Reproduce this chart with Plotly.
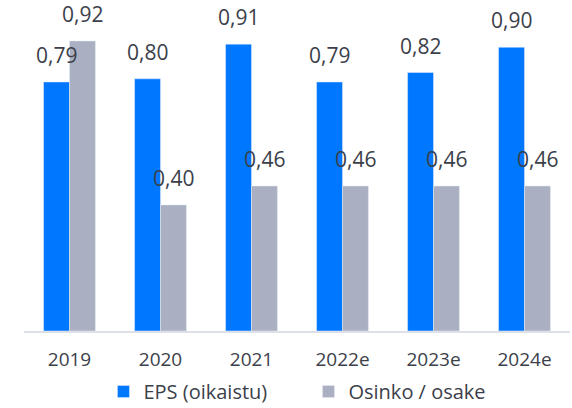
import plotly.graph_objects as go

years = ["2019", "2020", "2021", "2022e", "2023e", "2024e"]
eps = [0.79, 0.80, 0.91, 0.79, 0.82, 0.90]
dividend = [0.92, 0.40, 0.46, 0.46, 0.46, 0.46]

BLUE = "#0077ff"
GREY = "#aab0c1"
TEXT = "#3b404a"
FONT = "Open Sans"
BARGAP = 0.43
HALF = (1 - BARGAP) / 4  # offset of each bar centre from the category centre

fig = go.Figure()
fig.add_trace(go.Bar(x=years, y=eps, name="EPS (oikaistu)", marker_color=BLUE))
fig.add_trace(go.Bar(x=years, y=dividend, name="Osinko / osake", marker_color=GREY))


def fmt(v):
    return f"{v:.2f}".replace(".", ",")


# value labels above each bar (Finnish decimal comma)
for i, (a, b) in enumerate(zip(eps, dividend)):
    for val, dx in ((a, -HALF), (b, HALF)):
        fig.add_annotation(x=i + dx, y=val, text=fmt(val),
                           showarrow=False, yanchor="bottom", yshift=11,
                           font=dict(family=FONT, size=21, color=TEXT))

fig.update_layout(
    width=572, height=408,
    margin=dict(l=24, r=2, t=0, b=77, autoexpand=False),
    paper_bgcolor="white", plot_bgcolor="white",
    barmode="group", bargap=BARGAP, bargroupgap=0,
    font=dict(family=FONT, color=TEXT),
    xaxis=dict(showline=True, linecolor="#dde1e7", linewidth=2, ticks="",
               ticklabelstandoff=10, automargin=False,
               tickfont=dict(size=19, color=TEXT), showgrid=False),
    yaxis=dict(range=[0, 1.05], visible=False, showgrid=False, automargin=False),
    legend=dict(orientation="h", x=0.521, xanchor="center",
                y=-0.124, yanchor="top",
                font=dict(size=20, color=TEXT), itemwidth=30,
                entrywidth=160),
)

fig.write_html("out.html")
